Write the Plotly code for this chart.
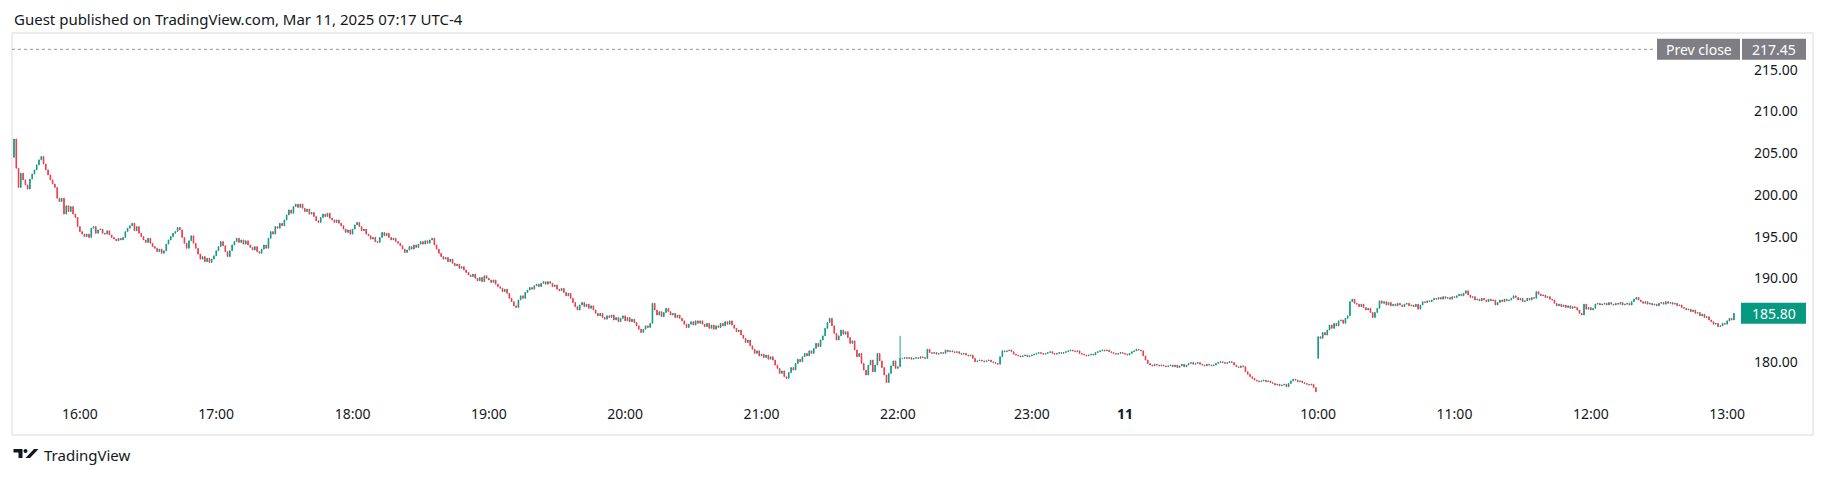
import plotly.graph_objects as go

# ---------------- data (1-minute bars) ----------------
prev_close = 217.45

regular_open = 204.5
regular_close = [
    206.7, 203.2, 200.9, 202.6, 201.8, 201.2, 200.7, 201.9, 202.5, 203.0,
    203.6, 204.2, 204.6, 203.7, 203.0, 202.4, 201.8, 201.3, 200.9, 199.6,
    199.2, 199.6, 197.7, 198.7, 198.0, 198.6, 197.7, 197.3, 196.2, 195.6,
    195.3, 195.0, 195.3, 194.9, 196.0, 196.2, 195.4, 195.8, 195.9, 195.4,
    195.3, 195.7, 195.2, 194.9, 194.7, 194.5, 194.8, 194.6, 194.9, 195.6,
    196.0, 196.3, 196.6, 195.7, 196.2, 195.4, 195.0, 194.6, 194.3, 194.8,
    194.2, 193.8, 193.6, 193.2, 193.5, 193.0, 193.3, 194.1, 194.6, 195.0,
    195.4, 195.6, 196.1, 195.8, 194.9, 194.2, 193.6, 194.5, 195.1, 194.2,
    193.6, 192.9, 192.3, 192.6, 192.0, 192.4, 191.9, 192.3, 192.7, 193.3,
    193.8, 194.4, 193.9, 193.2, 192.6, 193.3, 194.0, 194.4, 194.8, 194.3,
    194.6, 194.1, 194.5, 194.0, 193.7, 193.4, 193.8, 193.2, 193.0, 193.5,
    194.0, 193.6, 194.8, 195.6, 195.3, 196.2, 196.0, 196.6, 196.3, 197.0,
    197.6, 198.2, 197.8, 198.6, 198.9, 198.5, 198.9, 198.4, 198.0, 198.3,
    197.7, 197.9, 197.4, 196.9, 196.7, 197.3, 197.7, 197.4, 197.8, 197.2,
    197.0, 196.7, 197.0, 196.6, 196.3, 195.9, 195.5, 195.8, 195.3, 195.9,
    196.4, 196.7, 196.2, 195.7, 195.9, 195.3, 195.1, 194.7, 194.9, 194.4,
    194.3, 194.9, 195.5, 195.1, 195.4, 194.9, 194.6, 194.8, 194.4, 194.2,
    193.9, 193.5, 193.1, 193.4, 193.8, 193.5, 194.0, 193.7, 194.1, 194.4,
    194.1, 194.5, 194.2, 194.6, 194.8, 194.0, 193.5, 193.0, 192.6, 192.3,
    192.5, 192.0, 192.3, 191.8, 191.5, 191.7, 191.2, 191.4, 191.0, 190.7,
    190.4, 190.2, 190.5, 190.0, 189.7, 190.1, 189.6, 190.3, 190.0, 189.8,
    189.5, 189.8, 189.3, 189.0, 188.8, 188.4, 188.7, 188.2, 187.6, 187.2,
    186.7, 186.5, 187.4, 187.9, 187.6, 188.3, 188.6, 188.9, 188.7, 189.1,
    189.3, 189.0, 189.4, 189.6, 189.3, 189.6, 189.4, 189.0, 189.2, 188.7,
    188.5, 188.8, 188.3, 187.9, 188.2, 187.6, 187.1, 186.6, 186.2, 186.8,
    187.1, 186.6, 186.9, 186.4, 186.7, 186.2, 185.8, 185.5, 185.8, 185.3,
    185.1, 185.5, 185.3, 185.6, 185.0, 185.3, 184.8, 185.2, 185.5, 184.9,
    185.3, 184.8, 185.1, 184.7, 184.3, 183.9, 183.5, 183.9, 184.3, 184.1,
    184.6, 187.0, 186.2, 185.6, 186.0, 185.4, 185.9, 186.4, 186.0, 185.6,
    185.8, 185.3, 185.6, 185.2, 184.9, 184.5, 184.1, 184.5, 184.8, 184.4,
    184.9, 184.6, 184.9, 184.5, 184.2, 184.6, 184.0, 184.4, 183.9, 184.3,
    184.1, 184.6, 184.3, 184.8, 184.5, 184.9, 184.4, 184.0, 183.6, 183.8,
    183.2, 182.8, 182.3, 182.6, 181.9, 181.5, 181.0, 181.3, 180.7, 180.9,
    180.5, 180.8, 180.3, 180.6, 180.2, 179.6, 179.2, 178.6, 178.9, 178.2,
    178.0, 178.7, 179.3, 179.0, 179.8, 180.3, 180.0, 180.6, 181.0, 180.7,
    181.3, 181.0, 181.6, 182.2, 181.8, 182.6, 183.1, 184.0, 184.7, 185.2,
    184.3, 183.4, 182.6, 183.1, 183.8, 183.3, 183.6, 182.9, 182.2, 182.5,
    181.4, 180.6, 181.0, 179.8, 179.0, 178.4, 179.6, 180.2, 178.8, 179.6,
    181.0, 180.1, 179.3, 178.4, 177.5, 178.6, 179.5, 180.1, 179.2,
]

post_open = 179.2
post_close = [
    179.4, 180.4,
    180.4, 180.5, 180.4, 180.5, 180.3, 180.4, 180.5, 180.4, 180.6, 180.5, 180.4,
    181.5,
    181.1, 181.0, 181.1, 180.9, 181.0, 181.1, 181.0,
    181.4,
    181.2, 181.3, 181.2, 181.1, 181.2, 181.0, 180.9, 181.0, 180.8, 180.7, 180.8,
    180.4, 180.0,
    180.1, 180.2, 180.1, 180.0, 180.1, 180.2, 180.0,
    179.9, 179.8, 179.7,
    180.6, 181.3,
    181.2, 181.3, 181.4, 181.2,
    180.9, 180.8, 180.7, 180.6, 180.7, 180.8, 180.6, 180.7, 180.8,
    180.9, 181.0, 181.1, 181.0, 180.9, 181.0, 181.1, 181.2, 181.0, 180.9, 181.0, 181.1, 181.0, 181.1, 181.2,
    181.3, 181.4, 181.3, 181.2, 181.3,
    181.0, 180.9, 180.8, 180.7, 180.8, 180.9, 180.8,
    181.1, 181.2, 181.3, 181.4, 181.3, 181.4, 181.2,
    181.1, 181.0, 180.9, 181.0, 181.1, 181.0, 180.9, 180.8, 181.0,
    181.2, 181.3, 181.5, 181.4, 181.3,
    180.7, 180.2, 179.8,
    179.6, 179.5, 179.7, 179.6, 179.5, 179.6,
    179.5, 179.4, 179.5, 179.6, 179.4,
    179.6, 179.3, 179.5, 179.7, 179.4, 179.6,
    179.8, 179.9, 179.7, 179.8, 179.9, 179.7,
    179.6, 179.5, 179.7, 179.6, 179.5, 179.6,
    179.8, 179.9, 180.0, 179.9, 179.8, 179.9, 180.0, 179.9,
    179.6, 179.4, 179.3, 179.5, 179.4,
    178.8, 178.5, 178.2, 178.0,
    177.8, 177.7, 177.6, 177.7, 177.8, 177.6, 177.7, 177.5,
    177.4, 177.2, 177.3, 177.1, 177.2, 177.3, 177.0,
    177.4, 177.7, 177.9, 177.8, 177.6, 177.7,
    177.5, 177.4, 177.3, 177.2, 177.3,
    176.9, 176.4,
]

pre_open = 180.4
pre_close = [
    183.0,
    182.8, 183.5, 183.2,
    183.8, 184.4, 184.0,
    184.6, 184.3, 184.9, 185.0, 184.6,
    185.2, 185.5, 187.2,
    187.5, 187.0, 186.9, 186.6,
    186.9, 186.5, 186.2, 186.4, 185.9,
    185.3,
    185.9, 186.4,
    187.3, 187.0,
    187.2, 186.8, 187.1,
    186.7,
    186.9, 186.7, 187.0, 186.8, 186.6, 186.9, 187.0, 186.7, 186.8, 186.6, 186.9,
    186.3,
    186.8, 187.2, 187.1, 187.3, 187.2,
    187.4, 187.6, 187.5, 187.7, 187.5, 187.8, 187.6, 187.7, 187.5, 187.8, 187.7,
    187.9, 188.1, 187.9,
    188.2, 188.5,
    188.0, 187.7, 187.8, 187.4, 187.5,
    187.3, 187.6, 187.4, 187.2, 187.5, 187.3, 187.4,
    186.8,
    187.1, 187.4, 187.2, 187.5, 187.3, 187.4,
    187.6, 187.9, 187.7,
    187.4, 187.6, 187.2, 187.3,
    187.6, 187.4, 187.7, 187.6,
    188.4,
    188.1, 187.9, 188.0, 187.7, 187.8, 187.5, 187.4,
    187.0, 186.7, 186.9,
    186.6, 186.8, 186.5, 186.7, 186.4, 186.6, 186.5,
    186.2, 185.8, 185.6,
    186.9,
    186.3, 186.5, 186.2, 186.4,
    186.9, 187.0, 186.8,
    186.9, 187.0, 186.8, 187.1, 186.9, 186.8, 187.0, 186.9, 187.1, 186.8, 186.9, 187.0, 186.8,
    187.2, 187.5, 187.7, 187.4,
    187.2, 187.0, 187.2, 186.9, 187.0,
    186.8, 186.9, 186.7,
    187.0, 187.1, 186.9, 187.2, 187.0, 187.1, 186.9, 187.0,
    186.7, 186.8, 186.5,
    186.4, 186.2, 186.3, 186.0, 186.2,
    185.8, 185.9, 185.5,
    185.7, 185.3, 185.4,
    185.0, 184.8, 184.5, 184.6, 184.2,
    184.3,
    184.6, 184.5, 184.9,
    185.2, 185.0,
    185.8,
]

# bars whose wick reaches beyond the body (bar index, high)
wick_bar = [390]
wick_high = [183.1]

# time-scale labels and the bar index each one sits on
tick_text = ["16:00", "17:00", "18:00", "19:00", "20:00", "21:00", "22:00",
             "23:00", "<b>11</b>", "10:00", "11:00", "12:00", "13:00"]
tick_bar = [29, 89, 149, 209, 269, 329, 389, 448, 489, 574, 634, 694, 754]

# price-scale labels (185.00 sits hidden under the last-price tag)
price_ticks = [180, 190, 195, 200, 205, 210, 215]

# ---------------- build OHLC ----------------
opens, closes = [], []
for o0, cl in ((regular_open, regular_close), (post_open, post_close), (pre_open, pre_close)):
    opens += [o0] + cl[:-1]
    closes += cl
highs = [max(o, c) for o, c in zip(opens, closes)]
lows = [min(o, c) for o, c in zip(opens, closes)]
for b, h in zip(wick_bar, wick_high):
    if b < len(highs):
        highs[b] = max(highs[b], h)
xs = list(range(len(closes)))
last_price = closes[-1]

UP = "#089981"
DOWN = "#F23645"
TXT = "#131722"
FONT = "Noto Sans"

# ---------------- geometry (pixels) ----------------
W, H = 1827, 478
PL, PR, PT, PB = 12, 1741, 33, 398   # pane edges
X_LO, X_HI = -0.88, 760.1
Y_LO, Y_HI = 175.65, 219.41


def paper_x(px):
    return (px - PL) / (PR - PL)


def paper_y(py):
    return (PB - py) / (PB - PT)


ppu = (PB - PT) / (Y_HI - Y_LO)  # pixels per price unit

fig = go.Figure()
fig.add_trace(go.Candlestick(
    x=xs, open=opens, high=highs, low=lows, close=closes,
    increasing=dict(line=dict(color=UP, width=0.9), fillcolor=UP),
    decreasing=dict(line=dict(color=DOWN, width=0.9), fillcolor=DOWN),
    whiskerwidth=0, hoverinfo="skip", showlegend=False,
))

shapes = []
# outer frame
shapes.append(dict(type="rect", xref="paper", yref="paper",
                   x0=paper_x(12), x1=paper_x(1813), y0=paper_y(435), y1=paper_y(33),
                   line=dict(color="#E6E8EE", width=1.5), fillcolor="rgba(0,0,0,0)", layer="below"))
# previous close dotted line
shapes.append(dict(type="line", xref="paper", yref="y",
                   x0=0, x1=paper_x(1655), y0=prev_close, y1=prev_close,
                   line=dict(color="#9598A1", width=1, dash="dot"), layer="above"))
half = 10.5 / ppu
# Prev close tags
shapes.append(dict(type="rect", xref="paper", yref="y",
                   x0=paper_x(1657), x1=paper_x(1740), y0=prev_close - half, y1=prev_close + half,
                   line=dict(width=0), fillcolor="#7E7E84", layer="above"))
shapes.append(dict(type="rect", xref="paper", yref="y",
                   x0=paper_x(1742), x1=paper_x(1806), y0=prev_close - half, y1=prev_close + half,
                   line=dict(width=0), fillcolor="#7E7E84", layer="above"))
# last price tag
shapes.append(dict(type="rect", xref="paper", yref="y",
                   x0=paper_x(1741), x1=paper_x(1806), y0=last_price - half, y1=last_price + half,
                   line=dict(width=0), fillcolor=UP, layer="above"))
# TradingView logo
shapes.append(dict(type="path", xref="paper", yref="paper",
                   path=("M {a},{b} L {c},{b} L {c},{d} L {e},{d} L {e},{f} L {a},{f} Z").format(
                       a=paper_x(13.5), b=paper_y(449), c=paper_x(22.5), d=paper_y(458),
                       e=paper_x(18.5), f=paper_y(452.5)),
                   line=dict(width=0), fillcolor=TXT, layer="above"))
shapes.append(dict(type="circle", xref="paper", yref="paper",
                   x0=paper_x(23.5), x1=paper_x(27.5), y0=paper_y(453), y1=paper_y(449),
                   line=dict(width=0), fillcolor=TXT, layer="above"))
shapes.append(dict(type="path", xref="paper", yref="paper",
                   path="M {},{} L {},{} L {},{} L {},{} Z".format(
                       paper_x(25.5), paper_y(458), paper_x(30.0), paper_y(458),
                       paper_x(38.5), paper_y(449), paper_x(34.0), paper_y(449)),
                   line=dict(width=0), fillcolor=TXT, layer="above"))

annotations = [
    dict(text="Guest published on TradingView.com, Mar 11, 2025 07:17 UTC-4",
         xref="paper", yref="paper", x=paper_x(12), y=paper_y(19), xanchor="left", yanchor="middle",
         showarrow=False, font=dict(family=FONT, size=15, color=TXT)),
    dict(text="Prev close", xref="paper", yref="y", x=paper_x(1698.5), y=prev_close,
         xanchor="center", yanchor="middle", showarrow=False,
         font=dict(family=FONT, size=14, color="white")),
    dict(text=f"{prev_close:.2f}", xref="paper", yref="y", x=paper_x(1774), y=prev_close,
         xanchor="center", yanchor="middle", showarrow=False,
         font=dict(family=FONT, size=14, color="white")),
    dict(text=f"{last_price:.2f}", xref="paper", yref="y", x=paper_x(1773.5), y=last_price,
         xanchor="center", yanchor="middle", showarrow=False,
         font=dict(family=FONT, size=14, color="white")),
    dict(text="TradingView", xref="paper", yref="paper", x=paper_x(42), y=paper_y(455),
         xanchor="left", yanchor="middle", showarrow=False,
         font=dict(family=FONT, size=15, color=TXT)),
]

fig.update_layout(
    width=W, height=H,
    margin=dict(l=PL, r=W - PR, t=PT, b=H - PB, pad=0),
    paper_bgcolor="white", plot_bgcolor="white",
    font=dict(family=FONT, color=TXT, size=14),
    shapes=shapes, annotations=annotations,
    showlegend=False,
    boxgap=0.6,
    xaxis=dict(range=[X_LO, X_HI], rangeslider=dict(visible=False), showgrid=False,
               zeroline=False, showline=False, ticks="", tickmode="array",
               tickvals=tick_bar, ticktext=tick_text, tickfont=dict(size=14, color=TXT),
               ticklabelstandoff=6, fixedrange=True),
    yaxis=dict(range=[Y_LO, Y_HI], side="right", showgrid=False, zeroline=False,
               showline=False, ticks="", tickmode="array", tickvals=price_ticks,
               ticktext=[f"{v:.2f}" for v in price_ticks], tickfont=dict(size=14, color=TXT),
               ticklabelstandoff=12, fixedrange=True),
)

fig.write_html("out.html", config={"displayModeBar": False},
               post_script="document.body.style.margin='0px';document.body.style.overflow='hidden';")
